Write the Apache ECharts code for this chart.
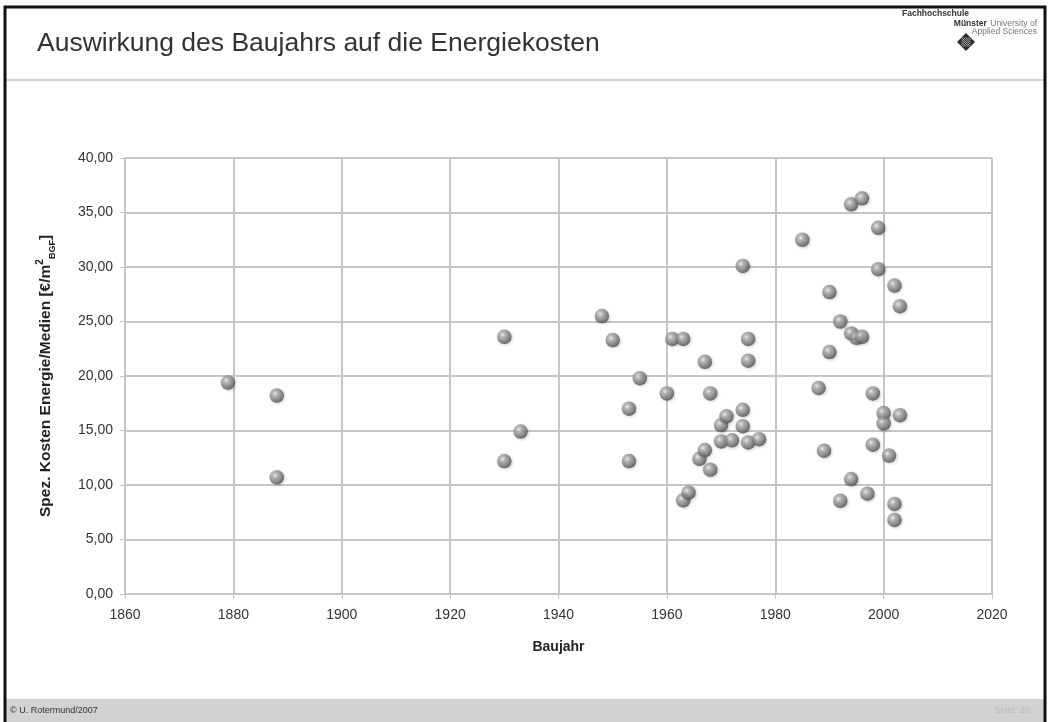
<!DOCTYPE html>
<html>
<head>
<meta charset="utf-8">
<script src="https://cdn.jsdelivr.net/npm/echarts@6/dist/echarts.min.js"></script>
<style>
  html, body { margin: 0; padding: 0; background: #fff; }
  #chart { width: 1048px; height: 722px; }
</style>
</head>
<body>
<div id="chart"></div>
<script>
// Baujahr (construction year) and specific energy/media cost per building
const baujahr = [
  1879, 1888, 1888, 1930, 1930, 1933,
  1948, 1950, 1953, 1953, 1955, 1960, 1961, 1963, 1963, 1964,
  1966, 1967, 1967, 1968, 1968, 1970, 1970, 1971, 1972, 1974,
  1974, 1974, 1975, 1975, 1975, 1977,
  1985, 1988, 1989, 1990, 1990, 1992, 1992, 1994, 1994, 1994,
  1995, 1996, 1996, 1997, 1998, 1998, 1999, 1999, 2000, 2000,
  2001, 2002, 2002, 2002, 2003, 2003
];
const kosten = [
  19.4, 18.2, 10.7, 23.6, 12.2, 14.9,
  25.5, 23.3, 17.0, 12.2, 19.8, 18.4, 23.4, 23.4, 8.6, 9.3,
  12.4, 21.3, 13.2, 18.4, 11.4, 15.5, 14.0, 16.3, 14.1, 30.1,
  16.9, 15.4, 23.4, 21.4, 13.9, 14.2,
  32.5, 18.9, 13.15, 27.7, 22.2, 25.0, 8.55, 35.75, 23.9, 10.55,
  23.5, 36.3, 23.6, 9.2, 18.4, 13.7, 33.6, 29.8, 16.6, 15.65,
  12.7, 28.3, 8.26, 6.8, 26.4, 16.4
];
const xTicks = { min: 1860, max: 2020, step: 20 };
const yTicks = { min: 0, max: 40, step: 5 };

const points = baujahr.map((y, i) => [y, kosten[i]]);

const chart = echarts.init(document.getElementById('chart'), null, { renderer: 'canvas' });

const font = 'Liberation Sans, Arial, sans-serif';
const gridGrey = '#c6c6c6';

// small striped diamond emblem under the university name
function emblem(cx, cy, r) {
  const els = [{
    type: 'polygon',
    shape: { points: [[cx, cy - r], [cx + r, cy], [cx, cy + r], [cx - r, cy]] },
    style: { fill: '#2b2b2b' }
  }];
  // thin light stripes running parallel to one diamond edge
  for (let k = -3; k <= 3; k++) {
    const t = k / 4;
    const ax = cx - r / 2 + t * r / 2, ay = cy - r / 2 - t * r / 2;
    const len = r * 0.5 * (1 - Math.abs(t)) + r * 0.02;
    els.push({
      type: 'line',
      shape: { x1: ax + (r / 2) - len, y1: ay + (r / 2) - len, x2: ax + (r / 2) + len, y2: ay + (r / 2) + len },
      style: { stroke: '#d8d8d8', lineWidth: 0.8 }
    });
  }
  return { type: 'group', children: els };
}

const option = {
  backgroundColor: '#ffffff',
  animation: false,
  grid: { left: 125, right: 56, top: 158, bottom: 128, containLabel: false },
  xAxis: {
    type: 'value',
    min: xTicks.min, max: xTicks.max, interval: xTicks.step,
    name: 'Baujahr',
    nameLocation: 'middle',
    nameGap: 46,
    nameTextStyle: { fontFamily: font, fontSize: 14, fontWeight: 'bold', color: '#222' },
    axisLine: { show: true, lineStyle: { color: gridGrey, width: 2 } },
    axisTick: { show: true, length: 5, lineStyle: { color: gridGrey, width: 1 } },
    axisLabel: { fontFamily: font, fontSize: 14, color: '#333', margin: 14, formatter: v => String(v) },
    splitLine: { show: true, lineStyle: { color: gridGrey, width: 2 } }
  },
  yAxis: {
    type: 'value',
    min: yTicks.min, max: yTicks.max, interval: yTicks.step,
    name: '{a|Spez. Kosten Energie/Medien [€/m}{sup|2}{sub|BGF}{a|]}',
    nameLocation: 'middle',
    nameRotate: 90,
    nameGap: 68,
    nameTextStyle: {
      fontFamily: font, fontSize: 15, fontWeight: 'bold', color: '#222',
      rich: {
        a: { fontFamily: font, fontSize: 15.5, fontWeight: 'bold', color: '#222', lineHeight: 22, verticalAlign: 'middle' },
        sup: { fontFamily: font, fontSize: 10, fontWeight: 'bold', color: '#222', lineHeight: 22, verticalAlign: 'top' },
        sub: { fontFamily: font, fontSize: 9, fontWeight: 'bold', color: '#222', lineHeight: 22, verticalAlign: 'bottom' }
      }
    },
    axisLine: { show: true, lineStyle: { color: gridGrey, width: 2 } },
    axisTick: { show: true, length: 5, lineStyle: { color: gridGrey, width: 1 } },
    axisLabel: {
      fontFamily: font, fontSize: 14, color: '#333', margin: 12,
      formatter: v => v.toFixed(2).replace('.', ',')
    },
    splitLine: { show: true, lineStyle: { color: gridGrey, width: 2 } }
  },
  series: [{
    type: 'scatter',
    data: points,
    symbol: 'circle',
    symbolSize: 14.5,
    itemStyle: {
      color: {
        type: 'radial', x: 0.38, y: 0.36, r: 0.68,
        colorStops: [
          { offset: 0, color: '#f2f2f2' },
          { offset: 0.25, color: '#b0b0b0' },
          { offset: 0.7, color: '#767676' },
          { offset: 1, color: '#464646' }
        ]
      },
      shadowColor: 'rgba(0,0,0,0.25)',
      shadowBlur: 3,
      shadowOffsetX: 1,
      shadowOffsetY: 1
    }
  }],
  graphic: [
    // slide frame
    { type: 'rect', shape: { x: 5, y: 7, width: 1040, height: 722 }, style: { fill: 'none', stroke: '#111', lineWidth: 3 }, z: 10 },
    // header separator
    { type: 'line', shape: { x1: 6, y1: 80, x2: 1044, y2: 80 }, style: { stroke: '#cfcfcf', lineWidth: 2 } },
    // title
    { type: 'text', left: 37, top: 30, style: { text: 'Auswirkung des Baujahrs auf die Energiekosten', fontFamily: font, fontSize: 26.5, fill: '#333' } },
    // university lettering
    { type: 'text', x: 902, y: 9, style: { text: 'Fachhochschule', fontFamily: font, fontSize: 8.5, fontWeight: 'bold', fill: '#333' } },
    { type: 'text', x: 1037, y: 18, style: { text: '{b|Münster} {n|University of}', align: 'right', rich: {
      b: { fontFamily: font, fontSize: 8.5, fontWeight: 'bold', fill: '#333' },
      n: { fontFamily: font, fontSize: 8.5, fill: '#777' } } } },
    { type: 'text', x: 1037, y: 27, style: { text: 'Applied Sciences', align: 'right', fontFamily: font, fontSize: 8.5, fill: '#777' } },
    emblem(966, 42, 9),
    // footer band
    { type: 'rect', shape: { x: 6, y: 699, width: 1038, height: 23 }, style: { fill: '#d2d2d2' } },
    { type: 'text', x: 10, y: 706, style: { text: '© U. Rotermund/2007', fontFamily: font, fontSize: 9, fill: '#333' } },
    { type: 'text', x: 1030, y: 706, style: { text: 'Seite: 20', align: 'right', fontFamily: font, fontSize: 9, fill: '#b8b8b8' } }
  ]
};

chart.setOption(option);
</script>
</body>
</html>
